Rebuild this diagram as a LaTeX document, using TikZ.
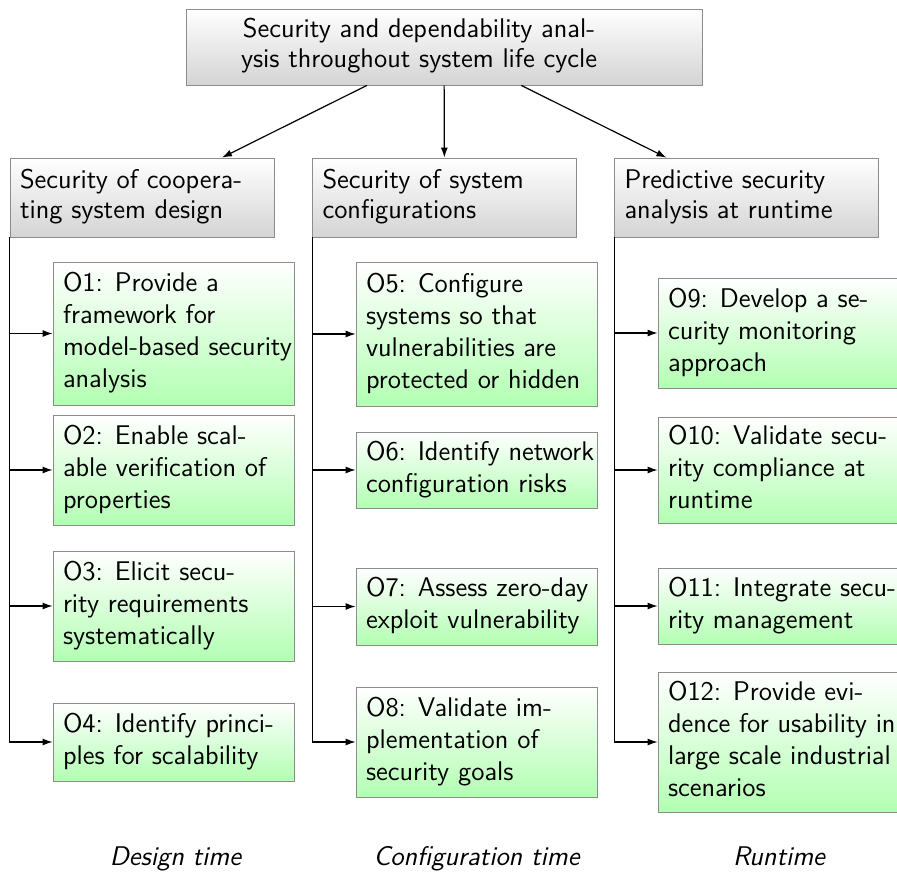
\documentclass[tikz,border=0pt]{standalone}
\usetikzlibrary{arrows.meta}
\newcommand\bxt[2]{\makebox[#1][l]{\begin{tabular}{@{}l@{}}#2\end{tabular}}}
\begin{document}
\begin{tikzpicture}[x=0.5pt,y=-0.5pt,
  every node/.style={font=\fontsize{13.5pt}{16pt}\selectfont\sffamily},
  topbox/.style={draw=black!45, top color=white, bottom color=black!17, inner xsep=5pt, inner ysep=0pt, minimum width=258pt, minimum height=38pt, font=\fontsize{13.5pt}{15pt}\selectfont\sffamily},
  hdrbox/.style={draw=black!45, top color=white, bottom color=black!17, inner xsep=5pt, inner ysep=0pt, minimum width=132pt, minimum height=39.5pt, font=\fontsize{13.5pt}{15pt}\selectfont\sffamily},
  objbox/.style={draw=black!45, top color=white, bottom color=green!30, inner xsep=5pt, inner ysep=0pt, minimum width=120.5pt},
  conn/.style={line width=0.6pt, -{Latex[length=5pt,width=3.5pt]}},
  phase/.style={font=\fontsize{13.5pt}{16pt}\selectfont\sffamily\itshape, anchor=base, inner sep=0pt}
]
\path[use as bounding box] (0,0) rectangle (897,871);
\clip (0,0) rectangle (897,871);

\node[topbox] (top) at (444,47) {\makebox[248pt][l]{\hspace*{22.5pt}\begin{tabular}{@{}c@{}}Security and dependability anal-\\ysis throughout system life cycle\end{tabular}}};

\node[hdrbox] (h1) at (142,197.5) {\bxt{122pt}{Security of coopera-\\ting system design}};
\node[hdrbox] (h2) at (444.5,197.5) {\bxt{122pt}{Security of system\\configurations}};
\node[hdrbox] (h3) at (746.5,197.5) {\bxt{122pt}{Predictive security\\analysis at runtime}};

\node[objbox, minimum height=71.5pt] (o1) at (173.5,333.5) {\bxt{110.5pt}{O1: Provide a\\framework for\\model-based security\\analysis}};
\node[objbox, minimum height=55pt] (o2) at (173.5,470) {\bxt{110.5pt}{O2: Enable scal-\\able verification of\\properties}};
\node[objbox, minimum height=55pt] (o3) at (173.5,606) {\bxt{110.5pt}{O3: Elicit secu-\\rity requirements\\systematically}};
\node[objbox, minimum height=39pt] (o4) at (173.5,742) {\bxt{110.5pt}{O4: Identify princi-\\ples for scalability}};

\node[objbox, minimum height=72pt] (o5) at (476.5,334) {\bxt{110.5pt}{O5: Configure\\systems so that\\vulnerabilities are\\protected or hidden}};
\node[objbox, minimum height=38pt] (o6) at (476.5,470) {\bxt{110.5pt}{O6: Identify network\\configuration risks}};
\node[objbox, minimum height=38.5pt] (o7) at (476.5,606.5) {\bxt{110.5pt}{O7: Assess zero-day\\exploit vulnerability}};
\node[objbox, minimum height=55pt] (o8) at (476.5,742) {\bxt{110.5pt}{O8: Validate im-\\plementation of\\security goals}};

\node[objbox, minimum height=55pt] (o9) at (778.5,333) {\bxt{110.5pt}{O9: Develop a se-\\curity monitoring\\approach}};
\node[objbox, minimum height=53pt] (o10) at (778.5,470) {\bxt{110.5pt}{O10: Validate secu-\\rity compliance at\\runtime}};
\node[objbox, minimum height=38pt] (o11) at (778.5,606) {\bxt{110.5pt}{O11: Integrate secu-\\rity management}};
\node[objbox, minimum height=70pt] (o12) at (778.5,742) {\bxt{110.5pt}{O12: Provide evi-\\dence for usability in\\large scale industrial\\scenarios}};

\node[phase] (p1) at (175.5,865) {Design time};
\node[phase] (p2) at (476.5,865) {Configuration time};
\node[phase] (p3) at (779,865) {Runtime};

\draw[conn] (top) -- (h1);
\draw[conn] (top) -- (h2);
\draw[conn] (top) -- (h3);
\foreach \o in {o1,o2,o3,o4} \draw[conn] (h1.south west) |- (\o.west);
\foreach \o in {o5,o6,o7,o8} \draw[conn] (h2.south west) |- (\o.west);
\foreach \o in {o9,o10,o11,o12} \draw[conn] (h3.south west) |- (\o.west);
\end{tikzpicture}
\end{document}
